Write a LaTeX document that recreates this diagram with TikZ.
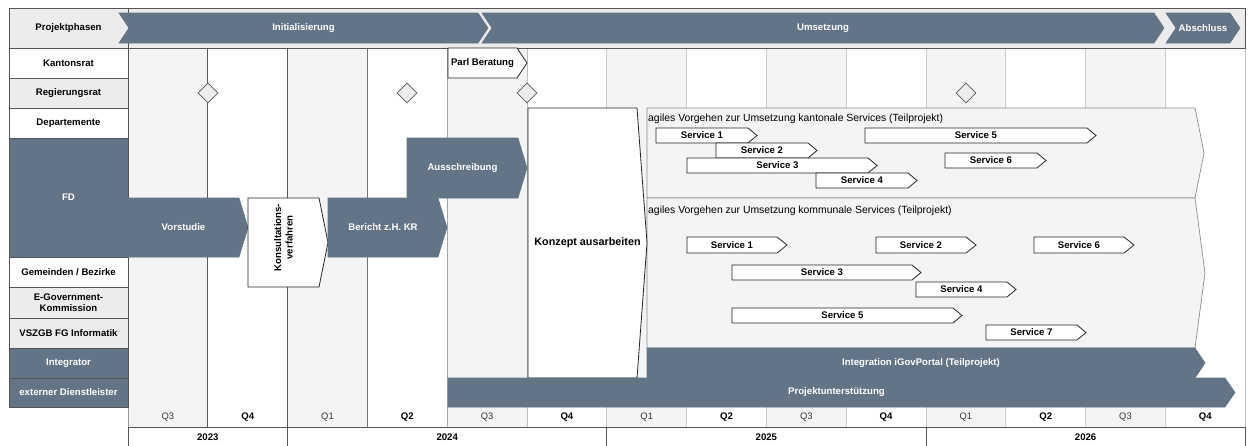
\documentclass[tikz,border=0pt]{standalone}
\usepackage{fontspec}
\setmainfont{Liberation Sans}
\usetikzlibrary{shapes,positioning,calc}

\definecolor{schiefer}{RGB}{100,116,135}
\definecolor{zeilegrau}{RGB}{236,236,236}
\definecolor{spaltegrau}{RGB}{244,244,244}
\definecolor{rahmen}{RGB}{85,85,85}

% Balken mit Spitze: [Knotenoptionen] Stil, Name, x links, x Spitze, y oben, y unten, Spitze, Text
\newcommand{\balken}[9][]{%
  \draw[balken#2] (#4,#6) -- ({#5-#8},#6) -- (#5,{(#6+#7)/2}) -- ({#5-#8},#7) -- (#4,#7) -- cycle;
  \node[text#2,#1] (#3) at ({(#4+#5-#8)/2},{(#6+#7)/2}) {#9};}

% Projektphase mit Kerbe links: Name, x links, x Spitze, Text
\newcommand{\phase}[4]{%
  \draw[balkendunkel] (#2,13) -- ({#3-10},13) -- (#3,28) -- ({#3-10},43) -- (#2,43) -- ({#2+10},28) -- cycle;
  \node[textdunkel] (#1) at ({(#2+#3)/2},28) {#4};}

\begin{document}
\begin{tikzpicture}
  [x=1pt,y=-1pt,
   font=\fontsize{9.6}{11.5}\selectfont\bfseries,
   zelle/.style={draw=rahmen,line width=0.8pt,minimum width=119pt,inner sep=0pt,align=center},
   zellehell/.style={zelle,fill=white},
   zellegrau/.style={zelle,fill=zeilegrau},
   zelledunkel/.style={zelle,fill=schiefer,text=white},
   balkendunkel/.style={fill=schiefer,draw=schiefer,line width=0.6pt},
   textdunkel/.style={text=white},
   balkenhell/.style={fill=white,draw=black!85,line width=0.8pt},
   texthell/.style={text=black},
   gruppe/.style={fill=spaltegrau,draw=black!45,line width=0.7pt},
   gruppentitel/.style={anchor=west,inner sep=1pt,text=black,
     font=\fontsize{10.4}{12}\selectfont\mdseries},
   meilenstein/.style={diamond,draw=black!65,fill=black!7,line width=0.6pt,
     minimum width=20pt,minimum height=20pt,inner sep=0pt},
   quartal/.style={inner sep=0pt,text=black},
   jahr/.style={draw=rahmen,line width=0.8pt}]

  \useasboundingbox (0,0) rectangle (1248,445);

  % Quartalsspalten
  \foreach \q [count=\i from 0] in {Q3,Q4,Q1,Q2,Q3,Q4,Q1,Q2,Q3,Q4,Q1,Q2,Q3,Q4}{
    \pgfmathsetmacro{\xl}{128+79.8*\i}
    \pgfmathsetmacro{\xm}{\xl+39.9}
    \ifodd\i
      \node[quartal] (q\i) at (\xm,417) {\q};
    \else
      \fill[spaltegrau] (\xl,48) rectangle ++(79.8,379);
      \node[quartal,text=black!78,font=\fontsize{9.4}{11}\selectfont\mdseries] (q\i) at (\xm,417) {\q};
    \fi
  }
  \foreach \i/\farbe in {1/black!65,2/black!65,3/black!55,4/black!35,5/black!25,6/black!20,
      7/black!20,8/black!20,9/black!20,10/black!20,11/black!20,12/black!20,13/black!20}
    \draw[\farbe,line width=0.7pt] ({128+79.8*\i},48) -- ++(0,379);
  \draw[black!25,line width=0.7pt] (1245,48) -- (1245,427);
  \draw[black!40,line width=0.7pt] (128,407) -- (128,427);

  % Zeile Projektphasen
  \draw[fill=zeilegrau,draw=rahmen,line width=0.8pt] (9,8) rectangle (1245,48);

  % Beteiligte
  \node[zellegrau,minimum height=40pt] (projektphasen) at (68.5,28) {Projektphasen};
  \node[zellehell,minimum height=30pt] (kantonsrat) at (68.5,63) {Kantonsrat};
  \node[zellegrau,minimum height=30pt] (regierungsrat) at (68.5,93) {Regierungsrat};
  \node[zellehell,minimum height=30pt] (departemente) at (68.5,123) {Departemente};
  \node[zelledunkel,minimum height=119pt] (fd) at (68.5,197.5) {FD};
  \node[zellehell,minimum height=30pt] (gemeinden) at (68.5,272) {Gemeinden / Bezirke};
  \node[zellegrau,minimum height=31pt] (egov) at (68.5,302.5) {E-Government-\\Kommission};
  \node[zellegrau,minimum height=30pt] (vszgb) at (68.5,333) {VSZGB FG Informatik};
  \node[zelledunkel,minimum height=30pt] (integrator) at (68.5,363) {Integrator};
  \node[zelledunkel,minimum height=29pt] (extern) at (68.5,392.5) {externer Dienstleister};

  % Phasen
  \phase{init}{119}{488}{Initialisierung}
  \phase{umsetzung}{482}{1164}{Umsetzung}
  \phase{abschluss}{1166}{1240}{Abschluss}

  % Meilensteine Regierungsrat
  \node[meilenstein] (rr1) at (208,93) {};
  \node[meilenstein] (rr2) at (407,93) {};
  \node[meilenstein] (rr3) at (527,93) {};
  \node[meilenstein] (rr4) at (966,93) {};

  % Kantonsrat
  \balken{hell}{parl}{448}{527}{48}{78}{10}{Parl Beratung}

  % FD
  \balken{dunkel}{vorstudie}{128}{248}{198}{257}{9}{Vorstudie}
  \balken[rotate=90,align=center,xshift=5pt]{hell}{konsult}{248}{328}{198}{287}{9}{Konsultations-\\verfahren}
  \balken{dunkel}{bericht}{328}{447}{198}{257}{9}{Bericht z.H. KR}
  \balken{dunkel}{ausschreibung}{407}{527}{138}{198}{9}{Ausschreibung}

  % Teilprojekte Services
  \draw[gruppe] (647,108) -- (1195,108) -- (1204,153) -- (1195,198) -- (647,198) -- cycle;
  \draw[gruppe] (647,198) -- (1195,198) -- (1205,273) -- (1195,348) -- (647,348) -- cycle;
  \node[gruppentitel] (kantonal) at (647,119) {agiles Vorgehen zur Umsetzung kantonale Services (Teilprojekt)};
  \node[gruppentitel] (kommunal) at (647,211) {agiles Vorgehen zur Umsetzung kommunale Services (Teilprojekt)};

  \balken[xshift=5pt,font=\fontsize{10.8}{12}\selectfont\bfseries]{hell}{konzept}{528}{647}{108}{378}{10}{Konzept ausarbeiten}

  % kantonale Services
  \balken{hell}{ks1}{656}{757}{128}{143}{9}{Service 1}
  \balken{hell}{ks2}{716}{817}{143}{158}{9}{Service 2}
  \balken{hell}{ks3}{687}{877}{158}{173}{9}{Service 3}
  \balken{hell}{ks4}{816}{917}{173}{188}{9}{Service 4}
  \balken{hell}{ks5}{865}{1096}{128}{143}{9}{Service 5}
  \balken{hell}{ks6}{945}{1046}{153}{168}{9}{Service 6}

  % kommunale Services
  \balken{hell}{gs1}{687}{787}{237}{253}{10}{Service 1}
  \balken{hell}{gs2}{876}{976}{237}{253}{10}{Service 2}
  \balken{hell}{gs6}{1034}{1134}{237}{253}{10}{Service 6}
  \balken{hell}{gs3}{732}{921}{265}{280}{9}{Service 3}
  \balken{hell}{gs4}{916}{1016}{282}{297}{9}{Service 4}
  \balken{hell}{gs5}{732}{962}{308}{323}{9}{Service 5}
  \balken{hell}{gs7}{986}{1086}{325}{340}{9}{Service 7}

  % Integrator und externe
  \balken{dunkel}{igov}{647}{1205}{348}{378}{10}{Integration iGovPortal (Teilprojekt)}
  \balken{dunkel}{support}{448}{1235}{378}{407}{10}{Projektunterst\"utzung}

  % Jahre
  \draw[jahr,fill=white] (128,427) rectangle (1245,447);
  \draw[jahr] (287.6,427) -- (287.6,447);
  \draw[jahr] (606.8,427) -- (606.8,447);
  \draw[jahr] (926,427) -- (926,447);
  \node (j2023) at (207.8,437) {2023};
  \node (j2024) at (447.2,437) {2024};
  \node (j2025) at (766.4,437) {2025};
  \node (j2026) at (1085.6,437) {2026};

\end{tikzpicture}
\end{document}
